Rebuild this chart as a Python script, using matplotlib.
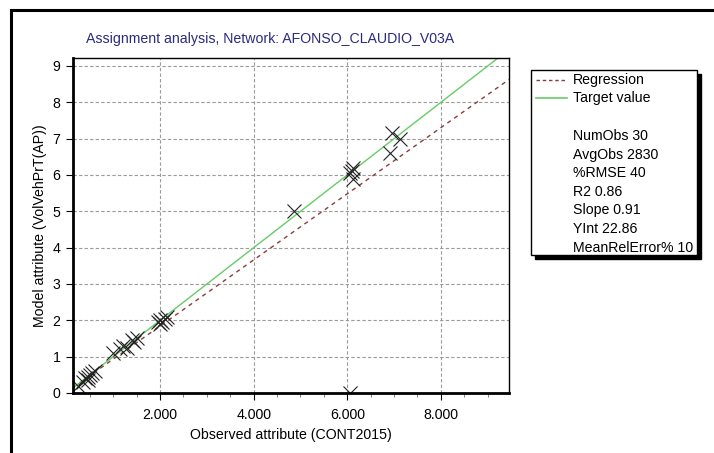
import numpy as np
import matplotlib
matplotlib.use("Agg")
import matplotlib.pyplot as plt
from matplotlib.patches import Rectangle
from matplotlib.lines import Line2D
from matplotlib.ticker import FuncFormatter, MultipleLocator

plt.rcParams['font.family'] = ['Liberation Sans', 'DejaVu Sans']

W, H = 714, 453

# observed counts (CONT2015) and modelled volumes (VolVehPrT(AP))
observed = [250, 350, 400, 450, 450, 500, 550, 600,
            1000, 1150, 1200, 1300, 1400, 1450, 1500,
            1950, 2000, 2000, 2050, 2100, 2150,
            4870, 6050, 6100, 6130, 6130, 6050, 6920, 6950, 7130]
modelled = [200, 300, 400, 350, 450, 500, 550, 600,
            1100, 1200, 1300, 1250, 1450, 1400, 1500,
            1950, 2000, 1900, 1950, 2050, 2100,
            5000, 6050, 6100, 6200, 5900, 0, 6600, 7150, 7000]

slope = 0.91
yint = 22.86
stats = ["NumObs 30", "AvgObs 2830", "%RMSE 40", "R2 0.86",
         "Slope 0.91", "YInt 22.86", "MeanRelError% 10"]

x_min, x_max = 140, 9455
y_min, y_max = 0, 9220
FS = 10.2


def fx(px):
    return px / W


def fy(py):
    return 1 - py / H


fig = plt.figure(figsize=(W / 100, H / 100), dpi=100)

# outer frame of the dialog
fig.patches.append(Rectangle((fx(11), fy(470)), fx(760), fy(10) - fy(470),
                             transform=fig.transFigure, fill=False,
                             edgecolor="black", linewidth=2.2))

ax = fig.add_axes([fx(73), fy(393), fx(509) - fx(73), fy(58) - fy(393)])

xs = np.array([x_min, x_max])
ax.plot(xs, slope * xs + yint, color="#8c3b3b", linestyle=(0, (3, 3)), linewidth=1)
ax.plot(xs, xs, color="#66cc66", linewidth=1)
ax.plot(observed, modelled, linestyle="none", marker="x", markersize=10,
        markeredgewidth=0.8, color="#222222")

ax.set_xlim(x_min, x_max)
ax.set_ylim(y_min, y_max)
ax.xaxis.set_major_locator(MultipleLocator(2000))
ax.xaxis.set_minor_locator(MultipleLocator(500))
ax.yaxis.set_major_locator(MultipleLocator(1000))
ax.xaxis.set_major_formatter(FuncFormatter(lambda v, p: f"{int(v):,}".replace(",", ".")))
ax.yaxis.set_major_formatter(FuncFormatter(lambda v, p: f"{int(round(v / 1000))}"))
ax.grid(True, which="major", color="#9a9a9a", linestyle=(0, (3, 2)), linewidth=0.8)
ax.tick_params(axis="both", which="major", length=5, width=0.8, labelsize=FS)
ax.tick_params(axis="x", which="major", pad=6)
ax.tick_params(axis="y", which="major", pad=4)
ax.tick_params(axis="x", which="minor", length=3, width=0.6, color="#666666")

for side in ["left", "bottom"]:
    ax.spines[side].set_linewidth(2)
for side in ["top", "right"]:
    ax.spines[side].set_linewidth(1)

ax.set_xlabel("Observed attribute (CONT2015)", fontsize=FS, labelpad=4)
ax.set_ylabel("Model attribute (VolVehPrT(AP))", fontsize=FS, labelpad=4)

fig.text(fx(86), fy(39), "Assignment analysis, Network: AFONSO_CLAUDIO_V03A",
         color="#2b2b80", fontsize=FS, ha="left", va="center")

# legend box with shadow
lx0, ly0, lx1, ly1 = 531, 70, 697, 255
fig.patches.append(Rectangle((fx(lx0 + 4), fy(ly1 + 4)), fx(lx1) - fx(lx0), fy(ly0) - fy(ly1),
                             transform=fig.transFigure, facecolor="black", edgecolor="black"))
fig.patches.append(Rectangle((fx(lx0), fy(ly1)), fx(lx1) - fx(lx0), fy(ly0) - fy(ly1),
                             transform=fig.transFigure, facecolor="white", edgecolor="black",
                             linewidth=1))

fig.add_artist(Line2D([fx(536), fx(567)], [fy(80), fy(80)], transform=fig.transFigure,
                      color="#8c3b3b", linestyle=(0, (2.5, 2)), linewidth=1))
fig.text(fx(573), fy(80), "Regression", fontsize=FS, va="center")
fig.add_artist(Line2D([fx(536), fx(567)], [fy(98), fy(98)], transform=fig.transFigure,
                      color="#66cc66", linewidth=1.2))
fig.text(fx(573), fy(98), "Target value", fontsize=FS, va="center")

for i, s in enumerate(stats):
    fig.text(fx(573), fy(136 + i * 18.6), s, fontsize=FS, va="center")

fig.savefig("out.png", dpi=100)
